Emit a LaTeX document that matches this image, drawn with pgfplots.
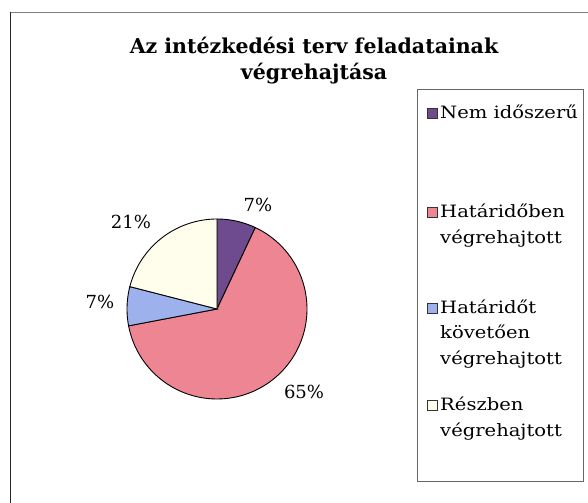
\documentclass[border=0pt]{standalone}
\usepackage{pgfplots}
\pgfplotsset{compat=1.18}
\usepackage{fontspec}
\setmainfont{DejaVu Serif}
\newfontfamily\legfont{DejaVu Serif}[FakeStretch=1.15]
\definecolor{cPurple}{HTML}{6E4A8E}
\definecolor{cPink}{HTML}{EE8593}
\definecolor{cBlue}{HTML}{9DB1EC}
\definecolor{cCream}{HTML}{FFFDEB}
\begin{document}
\begin{tikzpicture}
\useasboundingbox (0bp,0bp) rectangle (588bp,503bp);
% data (percent)
\def\valA{7}  % Nem időszerű
\def\valB{65} % Határidőben végrehajtott
\def\valC{7}  % Határidőt követően végrehajtott
\def\valD{21} % Részben végrehajtott
\pgfmathsetmacro\angA{90-3.6*\valA}
\pgfmathsetmacro\angB{\angA-3.6*\valB}
\pgfmathsetmacro\angC{\angB-3.6*\valC}
\pgfmathsetmacro\angD{\angC-3.6*\valD}
\begin{axis}[
  at={(0bp,0bp)}, anchor=south west,
  scale only axis, width=588bp, height=503bp,
  xmin=0, xmax=588, ymin=0, ymax=503,
  hide axis, clip=false,
]
% slices
\addplot[fill=cPurple, draw=black, line width=0.9pt, domain=\angA:90, samples=20, variable=\t]
  ({217+90*cos(\t)},{194+90*sin(\t)}) -- (axis cs:217,194) -- cycle;
\addplot[fill=cPink, draw=black, line width=0.9pt, domain=\angB:\angA, samples=90, variable=\t]
  ({217+90*cos(\t)},{194+90*sin(\t)}) -- (axis cs:217,194) -- cycle;
\addplot[fill=cBlue, draw=black, line width=0.9pt, domain=\angC:\angB, samples=20, variable=\t]
  ({217+90*cos(\t)},{194+90*sin(\t)}) -- (axis cs:217,194) -- cycle;
\addplot[fill=cCream, draw=black, line width=0.9pt, domain=\angD:\angC, samples=40, variable=\t]
  ({217+90*cos(\t)},{194+90*sin(\t)}) -- (axis cs:217,194) -- cycle;

% data labels
\begin{scope}[every node/.style={font=\fontsize{18bp}{22bp}\selectfont, inner sep=0pt}]
\node at (axis cs:258,298) {\valA\%};
\node at (axis cs:131,281) {\valD\%};
\node at (axis cs:100,201) {\valC\%};
\node at (axis cs:304,111) {\valB\%};
\end{scope}

% outer frame
\draw[black!85, line width=0.9pt] (axis cs:10.5,0) -- (axis cs:10.5,491);
\draw[black!50, line width=0.8pt] (axis cs:10.5,491) -- (axis cs:588,491);

% title
\node[align=center, font=\bfseries\fontsize{20.5bp}{26bp}\selectfont] at (axis cs:314,442)
  {Az intézkedési terv feladatainak\\végrehajtása};

% legend
\draw[black!60, line width=0.8pt] (axis cs:417,22) rectangle (axis cs:583,414);
\begin{scope}[every node/.style={anchor=base west, inner sep=0pt, font=\legfont\fontsize{17bp}{26bp}\selectfont}]
\filldraw[fill=cPurple, draw=black!80, line width=0.7pt] (axis cs:427,384.5) rectangle (axis cs:437,394.5);
\node at (axis cs:440,384) {Nem időszerű};
\filldraw[fill=cPink, draw=black!80, line width=0.7pt] (axis cs:427,286) rectangle (axis cs:437,296);
\node at (axis cs:440,285.5) {Határidőben};
\node at (axis cs:440,259.5) {végrehajtott};
\filldraw[fill=cBlue, draw=black!80, line width=0.7pt] (axis cs:427,190) rectangle (axis cs:437,200);
\node at (axis cs:440,189.5) {Határidőt};
\node at (axis cs:440,164) {követően};
\node at (axis cs:440,138.5) {végrehajtott};
\filldraw[fill=cCream, draw=black!80, line width=0.7pt] (axis cs:427,93) rectangle (axis cs:437,103);
\node at (axis cs:440,92.5) {Részben};
\node at (axis cs:440,66) {végrehajtott};
\end{scope}
\end{axis}
\end{tikzpicture}
\end{document}
